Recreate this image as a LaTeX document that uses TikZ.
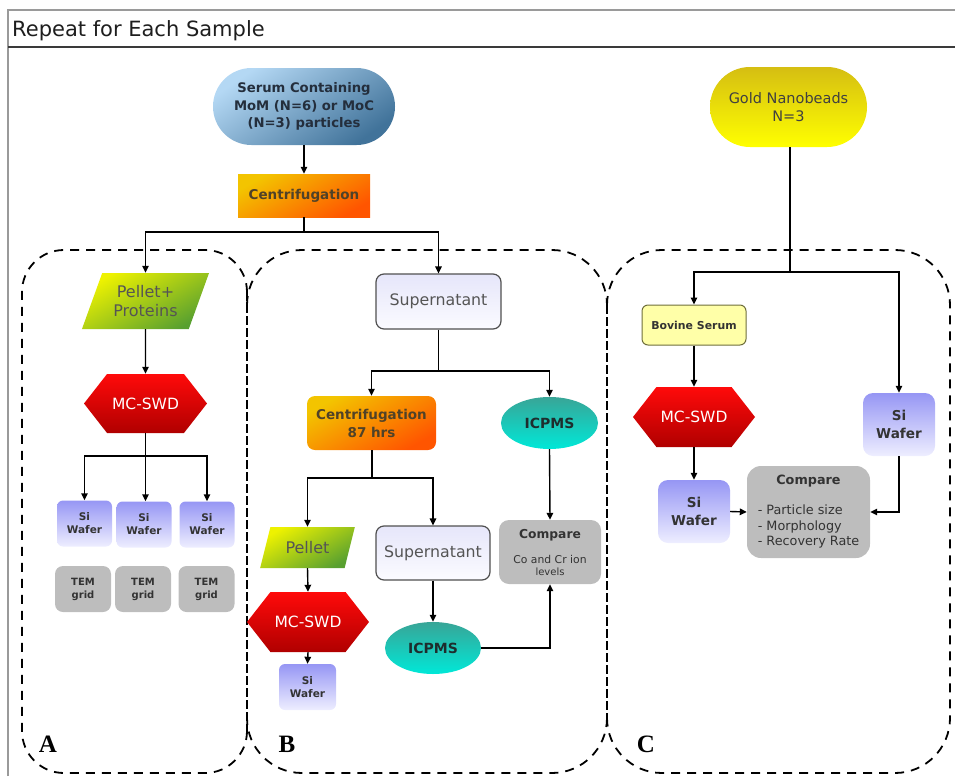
\documentclass[tikz,border=0pt]{standalone}
\usepackage{fontspec}
\setmainfont{DejaVu Sans}
\newfontfamily\lblfont{Liberation Serif}
\usetikzlibrary{shapes.geometric,shapes.misc,shapes.symbols,arrows.meta}
\definecolor{txtdark}{HTML}{333333}
\definecolor{txtgray}{HTML}{555555}
\definecolor{serumL}{HTML}{B4D8F4}
\definecolor{serumD}{HTML}{41739A}
\definecolor{orgT}{HTML}{F3C400}
\definecolor{orgB}{HTML}{FF5500}
\definecolor{grnT}{HTML}{EEF200}
\definecolor{grnB}{HTML}{58A030}
\definecolor{redT}{HTML}{FF0A0A}
\definecolor{redB}{HTML}{B00000}
\definecolor{lavT}{HTML}{9696F4}
\definecolor{lavB}{HTML}{EEEEFF}
\definecolor{greybox}{HTML}{BDBDBD}
\definecolor{supT}{HTML}{E6E6FA}
\definecolor{supB}{HTML}{FBFBFF}
\definecolor{tealT}{HTML}{38A597}
\definecolor{tealB}{HTML}{00E8D8}
\definecolor{goldT}{HTML}{D5BE12}
\definecolor{goldB}{HTML}{FFFF00}
\definecolor{bovfill}{HTML}{FFFFA8}
\definecolor{bovdraw}{HTML}{6E6E3C}
\definecolor{framegray}{HTML}{9A9A9A}
\definecolor{framedark}{HTML}{3A3A3A}
\begin{document}
\begin{tikzpicture}[x=1pt,y=-1pt,
  arr/.style={line width=1.4pt,-{Triangle[length=7pt,width=6.5pt]}},
  conn/.style={line width=1.4pt},
  region/.style={line width=1.8pt,dash pattern=on 9pt off 7pt},
  shared/.style={line width=1.8pt,dash pattern=on 9pt off 3pt},
  hexa/.style={shape=signal,signal to=east and west,signal pointer angle=104,
    minimum width=123pt,minimum height=59pt,inner sep=0pt,
    top color=redT,bottom color=redB,text=white,font=\fontsize{15.5}{18}\selectfont},
  para/.style={trapezium,trapezium left angle=64,trapezium right angle=116,
    trapezium stretches=true,inner sep=0pt,align=center,text=txtgray,
    font=\fontsize{16}{18.5}\selectfont,top color=grnT,bottom color=grnB,shading angle=30},
  orange/.style={inner sep=0pt,align=center,text={rgb,255:red,80;green,66;blue,40},
    top color=orgT,bottom color=orgB,shading angle=30,font=\fontsize{13.5}{18}\selectfont\bfseries},
  siS/.style={rectangle,rounded corners=6pt,minimum width=55pt,minimum height=46pt,inner sep=0pt,
    top color=lavT,bottom color=lavB,font=\fontsize{10.5}{13}\selectfont\bfseries,text=txtdark,align=center},
  siL/.style={rectangle,rounded corners=10pt,minimum width=72pt,minimum height=63pt,inner sep=0pt,
    top color=lavT,bottom color=lavB,font=\fontsize{13.6}{18}\selectfont\bfseries,text=txtdark,align=center},
  tem/.style={rectangle,rounded corners=8pt,minimum width=56pt,minimum height=46pt,inner sep=0pt,
    fill=greybox,font=\fontsize{10}{13}\selectfont\bfseries,text=txtdark,align=center},
  supbox/.style={rectangle,rounded corners=8pt,inner sep=0pt,draw={rgb,255:red,80;green,80;blue,80},
    line width=1.2pt,top color=supT,bottom color=supB,text=txtgray,font=\fontsize{15.8}{18}\selectfont},
  icp/.style={ellipse,inner sep=0pt,top color=tealT,bottom color=tealB,
    text={rgb,255:red,30;green,45;blue,45},font=\fontsize{14}{16}\selectfont\bfseries},
  cmp/.style={rectangle,inner sep=0pt,fill=greybox,text=txtdark,align=center},
  lbl/.style={font=\fontsize{25}{28}\selectfont\lblfont\bfseries,inner sep=0pt}
]
\useasboundingbox (0,0) rectangle (955,776);
% frame
\draw[framegray,line width=1.3pt] (8,776) -- (8,10) -- (955,10);
\draw[framedark,line width=2pt] (8,47) -- (955,47);
\node[anchor=west,inner sep=0pt,font=\fontsize{21}{24}\selectfont,text={rgb,255:red,30;green,30;blue,30}] (title) at (12,31) {Repeat for Each Sample};
% dashed regions
\draw[region,rounded corners=42pt] (247,731) -- (247,773) -- (22,773) -- (22,250) -- (247,250) -- (247,292);
\draw[region,rounded corners=55pt] (247,305) -- (247,250) -- (607,250) -- (607,305);
\draw[region,rounded corners=55pt] (607,718) -- (607,773) -- (247,773) -- (247,718);
\draw[region,rounded corners=55pt] (607,305) -- (607,250) -- (950,250) -- (950,773) -- (607,773) -- (607,718);
\draw[shared] (247,292) -- (247,731);
\draw[shared] (607,305) -- (607,718);
% top
\node[rounded rectangle,minimum width=182pt,minimum height=77pt,inner sep=0pt,
  top color=serumL,bottom color=serumD,shading angle=35,align=center,
  text={rgb,255:red,36;green,46;blue,60},font=\fontsize{13.2}{17.5}\selectfont\bfseries]
  (serum) at (304,106.5) {Serum Containing\\MoM (N=6) or MoC\\(N=3) particles};
\node[orange,minimum width=132pt,minimum height=43pt] (cent) at (304,195.5) {Centrifugation};
\draw[arr] (serum.south) -- (cent.north);
\coordinate (j1) at (304,232);
\draw[conn] (cent.south) -- (j1);
% A
\node[para,minimum width=128pt,minimum height=56pt] (pelp) at (145.5,301) {Pellet+\\Proteins};
\node[hexa] (mc1) at (145.5,403.5) {MC-SWD};
\node[siS] (si1) at (84.5,523.5) {Si\\Wafer};
\node[siS] (si2) at (144,524.5) {Si\\Wafer};
\node[siS] (si3) at (207,524.5) {Si\\Wafer};
\node[tem] (tem1) at (83,589) {TEM\\grid};
\node[tem] (tem2) at (143,589) {TEM\\grid};
\node[tem] (tem3) at (206.5,589) {TEM\\grid};
\draw[arr] (j1) -| (pelp.north);
\draw[arr] (pelp.south) -- (mc1.north);
\coordinate (j3) at (145.5,456);
\draw[arr] (mc1.south) -- (mc1.south |- si2.north);
\draw[arr] (j3) -| (si1.north);
\draw[arr] (j3) -| (si3.north);
% B
\node[supbox,minimum width=125pt,minimum height=55pt] (sup1) at (438.5,301.5) {Supernatant};
\node[orange,rounded corners=8pt,minimum width=129pt,minimum height=54pt] (cent2) at (371.5,423) {Centrifugation\\87 hrs};
\node[icp,minimum width=97pt,minimum height=52pt] (icp1) at (549.5,423) {ICPMS};
\node[cmp,rounded corners=10pt,minimum width=102pt,minimum height=64pt] (cmpB) at (550,552)
  {{\fontsize{12.3}{12.5}\selectfont\bfseries Compare}\\[13pt]\fontsize{10.8}{12.5}\selectfont Co and Cr ion\\levels};
\node[para,minimum width=95pt,minimum height=41pt,font=\fontsize{16}{18}\selectfont] (pel2) at (307.5,547.5) {Pellet};
\node[hexa,minimum width=122pt,minimum height=60pt] (mc2) at (308,622) {MC-SWD};
\node[siS,minimum width=57pt] (si4) at (307.5,687) {Si\\Wafer};
\node[supbox,minimum width=114pt,minimum height=54pt] (sup2) at (433,553) {Supernatant};
\node[icp,minimum width=96pt,minimum height=52pt] (icp2) at (433,648) {ICPMS};
\draw[arr] (j1) -| (sup1.north);
\coordinate (jB1) at (438.5,371);
\draw[conn] (sup1.south) -- (jB1);
\draw[arr] (jB1) -| (cent2.north);
\draw[arr] (jB1) -| (icp1.north);
\draw[arr] (icp1.south) -- (cmpB.north);
\coordinate (jB2) at (372,478);
\draw[conn] (cent2.south -| jB2) -- (jB2);
\draw[arr] (jB2) -| (pel2.north);
\draw[arr] (jB2) -| (sup2.north);
\draw[arr] (pel2.south) -- (mc2.north);
\draw[arr] (mc2.south) -- (si4.north);
\draw[arr] (sup2.south) -- (icp2.north);
\draw[arr] (icp2.east) -| (cmpB.south);
% C
\node[rounded rectangle,minimum width=157pt,minimum height=80pt,inner sep=0pt,
  top color=goldT,bottom color=goldB,align=center,text={rgb,255:red,64;green,64;blue,64},
  font=\fontsize{14.5}{18}\selectfont] (gold) at (788.5,107) {Gold Nanobeads\\N=3};
\node[rectangle,rounded corners=6pt,minimum width=104pt,minimum height=40pt,inner sep=0pt,
  fill=bovfill,draw=bovdraw,line width=1pt,text=txtdark,font=\fontsize{10.9}{13}\selectfont\bfseries]
  (bov) at (694,325) {Bovine Serum};
\node[hexa,minimum width=122pt,minimum height=60pt] (mc3) at (694,417) {MC-SWD};
\node[siL] (siC1) at (694,511.5) {Si\\Wafer};
\node[siL] (siC2) at (899,424.5) {Si\\Wafer};
\node[cmp,rounded corners=14pt,minimum width=123pt,minimum height=92pt] (cmpC) at (808.5,512)
  {\fontsize{12.8}{15.5}\selectfont\begin{tabular}{@{}l@{}}\multicolumn{1}{@{}c@{}}{\bfseries Compare}\\[15pt]
  - Particle size\\- Morphology\\- Recovery Rate\end{tabular}};
\coordinate (jC) at (790,272);
\draw[conn] (gold.south -| jC) -- (jC);
\draw[arr] (jC) -| (bov.north);
\draw[arr] (jC) -| (siC2.north);
\draw[arr] (bov.south) -- (mc3.north);
\draw[arr] (mc3.south) -- (siC1.north);
\draw[arr] (siC1.east) -- (cmpC.west);
\draw[arr] (siC2.south) |- (cmpC.east);
% labels
\node[lbl] (la) at (48,744) {A};
\node[lbl] (lb) at (287,744) {B};
\node[lbl] (lc) at (646,744) {C};
\end{tikzpicture}
\end{document}
